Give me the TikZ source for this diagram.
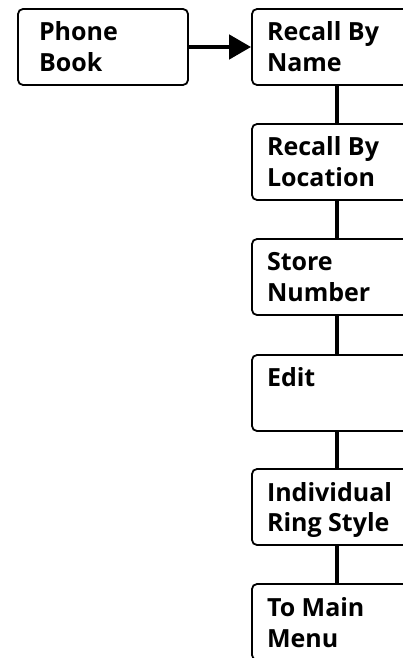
\documentclass[tikz,border=0pt]{standalone}
\usepackage{fontspec}
\setmainfont{Open Sans}
\usetikzlibrary{arrows.meta}

\tikzset{
  menubox/.style={draw, line width=1.8pt, rounded corners=5pt, fill=white,
    inner xsep=15pt, inner ysep=13pt, font=\fontsize{25}{31}\selectfont\bfseries},
  link/.style={line width=4.5pt},
}
\newcommand{\boxlabel}[2][140pt]{\parbox[c][50pt][t]{#1}{\raggedright #2}}

\begin{document}
\begin{tikzpicture}[x=1pt,y=-1pt]
    \useasboundingbox (0,0) rectangle (403,658);
    \clip (0,0) rectangle (403,658);

    % Startmenue
    \node[menubox, inner xsep=21pt] (phone) at (103,47) {\boxlabel[128pt]{Phone\\Book}};

    % Untermenue, rechte Spalte
    \node[menubox] (name) at (337,47) {\boxlabel{Recall By\\Name}};
    \node[menubox] (location) at (337,162) {\boxlabel{Recall By\\Location}};
    \node[menubox] (store) at (337,277) {\boxlabel{Store\\Number}};
    \node[menubox] (edit) at (337,393) {\boxlabel{Edit}};
    \node[menubox] (ring) at (337,507) {\boxlabel{Individual\\Ring Style}};
    \node[menubox] (main) at (337,622) {\boxlabel{To Main\\Menu}};

    % Verbindungen
    \draw[link, -{Triangle[length=22pt,width=24pt]}] (phone) -- (name);
    \draw[link] (name) -- (location);
    \draw[link] (location) -- (store);
    \draw[link] (store) -- (edit);
    \draw[link] (edit) -- (ring);
    \draw[link] (ring) -- (main);
\end{tikzpicture}
\end{document}
